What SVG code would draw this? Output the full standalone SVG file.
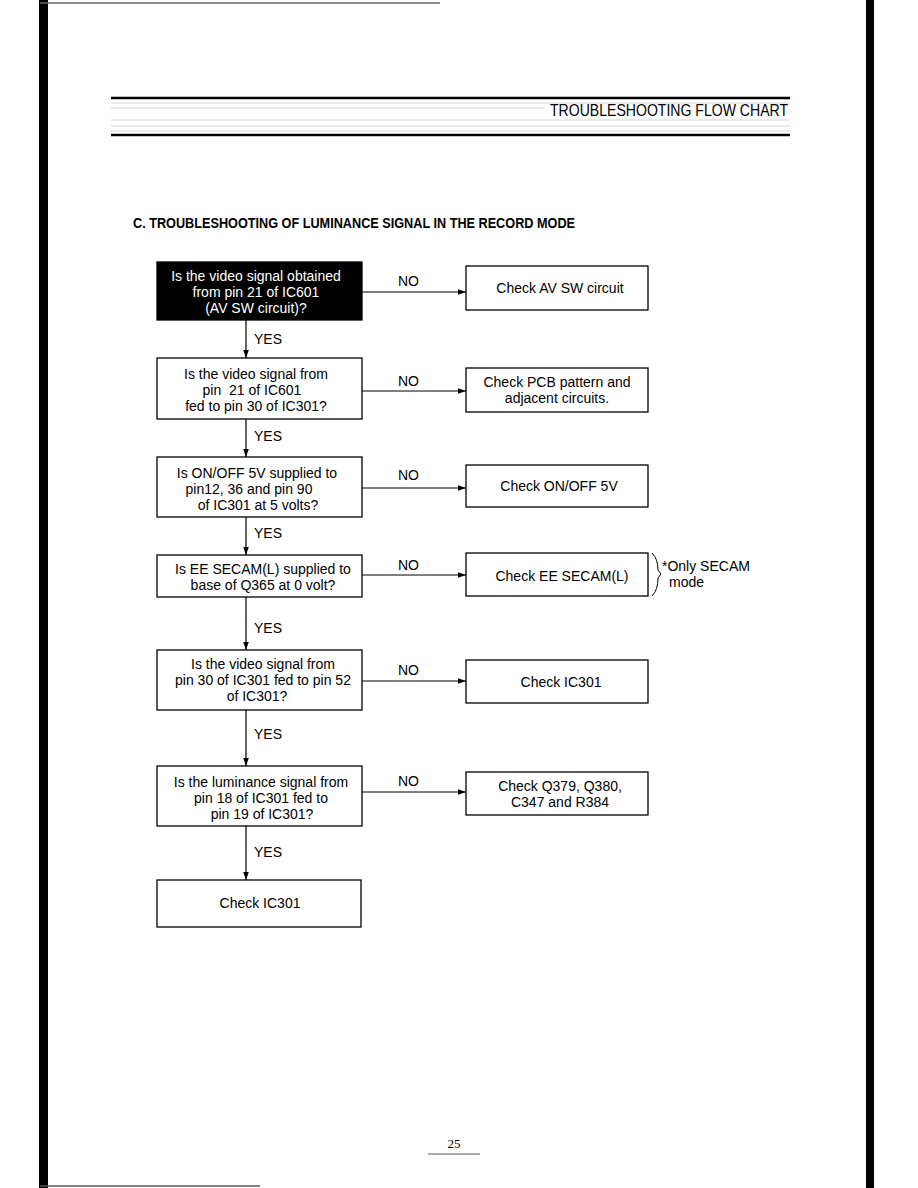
<svg xmlns="http://www.w3.org/2000/svg" width="918" height="1188" viewBox="0 0 918 1188">
<style>
.box{fill:#fff;stroke:#000;stroke-width:1.3}
.dark{fill:#000;stroke:#000;stroke-width:1.3}
.t{font-family:"Liberation Sans",Arial,sans-serif;font-size:14px;fill:#000}
.tw{font-family:"Liberation Sans",Arial,sans-serif;font-size:14px;fill:#fff}
.c{text-anchor:middle}
.lbl{font-family:"Liberation Sans",Arial,sans-serif;font-size:14px;fill:#000}
.edge{stroke:#000;stroke-width:1.2;fill:none}
.scan{stroke:#bbb;stroke-width:0.6}
</style>
<defs>
<marker id="ah" viewBox="0 0 10 10" refX="10" refY="5" markerWidth="8" markerHeight="8" markerUnits="userSpaceOnUse" orient="auto">
<path d="M0,1.5 L10,5 L0,8.5 Z" fill="#000"/>
</marker>
</defs>
<rect width="918" height="1188" fill="#fff"/>
<g id="page">
<rect x="39" y="0" width="9" height="1188" fill="#000"/>
<rect x="866" y="0" width="8" height="1188" fill="#000"/>
<line x1="40" y1="3" x2="440" y2="3" stroke="#666" stroke-width="1.5"/>
<line x1="40" y1="1186" x2="260" y2="1186" stroke="#555" stroke-width="1.5"/>
</g>
<g id="header">
<line x1="111" y1="98" x2="790" y2="98" stroke="#000" stroke-width="2.5"/>
<line x1="111" y1="135" x2="790" y2="135" stroke="#000" stroke-width="2.5"/>
<line class="scan" x1="111" y1="103" x2="790" y2="103"/>
<line class="scan" x1="111" y1="108" x2="545" y2="108"/>
<line class="scan" x1="111" y1="120" x2="790" y2="120"/>
<line class="scan" x1="111" y1="126" x2="790" y2="126"/>
<line class="scan" x1="111" y1="131" x2="790" y2="131"/>
<text x="550" y="116" font-family="'Liberation Sans',Arial,sans-serif" font-size="17" textLength="238" lengthAdjust="spacingAndGlyphs" fill="#000">TROUBLESHOOTING FLOW CHART</text>
</g>
<text id="title" x="133" y="228" font-family="'Liberation Sans',Arial,sans-serif" font-size="14" font-weight="bold" textLength="442" lengthAdjust="spacingAndGlyphs" fill="#000">C. TROUBLESHOOTING OF LUMINANCE SIGNAL IN THE RECORD MODE</text>

<g id="q1">
<rect class="dark" x="157" y="262" width="205" height="58"/>
<text class="tw c" x="256" y="281">Is the video signal obtained</text>
<text class="tw c" x="256" y="297">from pin 21 of IC601</text>
<text class="tw c" x="256" y="313">(AV SW circuit)?</text>
</g>
<g id="a1">
<rect class="box" x="466" y="266" width="182" height="44"/>
<text class="t c" x="560" y="293">Check AV SW circuit</text>
</g>
<g id="q2">
<rect class="box" x="157" y="358" width="205" height="61"/>
<text class="t c" x="256" y="379">Is the video signal from</text>
<text class="t c" x="252" y="395" xml:space="preserve">pin  21 of IC601</text>
<text class="t c" x="256" y="411">fed to pin 30 of IC301?</text>
</g>
<g id="a2">
<rect class="box" x="466" y="368" width="182" height="44"/>
<text class="t c" x="557" y="387">Check PCB pattern and</text>
<text class="t c" x="557" y="403">adjacent circuits.</text>
</g>
<g id="q3">
<rect class="box" x="157" y="457" width="205" height="60"/>
<text class="t c" x="257" y="478">Is ON/OFF 5V supplied to</text>
<text class="t c" x="249" y="494">pin12, 36 and pin 90</text>
<text class="t c" x="258" y="510">of IC301 at 5 volts?</text>
</g>
<g id="a3">
<rect class="box" x="466" y="465" width="182" height="42"/>
<text class="t c" x="559" y="491">Check ON/OFF 5V</text>
</g>
<g id="q4">
<rect class="box" x="157" y="555" width="205" height="42"/>
<text class="t c" x="263" y="574">Is EE SECAM(L) supplied to</text>
<text class="t c" x="263" y="590">base of Q365 at 0 volt?</text>
</g>
<g id="a4">
<rect class="box" x="466" y="553" width="182" height="43"/>
<text class="t c" x="562" y="581">Check EE SECAM(L)</text>
<path d="M652,553 Q658,559 658,570 L661,574 L658,578 Q658,590 652,596" fill="none" stroke="#000" stroke-width="1"/>
<text class="t" x="662" y="571">*Only SECAM</text>
<text class="t" x="669" y="587">mode</text>
</g>
<g id="q5">
<rect class="box" x="157" y="650" width="205" height="60"/>
<text class="t c" x="263" y="669">Is the video signal from</text>
<text class="t c" x="263" y="685">pin 30 of IC301 fed to pin 52</text>
<text class="t c" x="257" y="701">of IC301?</text>
</g>
<g id="a5">
<rect class="box" x="466" y="660" width="182" height="43"/>
<text class="t c" x="561" y="687">Check IC301</text>
</g>
<g id="q6">
<rect class="box" x="157" y="766" width="205" height="60"/>
<text class="t c" x="261" y="787">Is the luminance signal from</text>
<text class="t c" x="261" y="803">pin 18 of IC301 fed to</text>
<text class="t c" x="262" y="819">pin 19 of IC301?</text>
</g>
<g id="a6">
<rect class="box" x="466" y="772" width="182" height="43"/>
<text class="t c" x="560" y="791">Check Q379, Q380,</text>
<text class="t c" x="560" y="807">C347 and R384</text>
</g>
<g id="end">
<rect class="box" x="157" y="880" width="204" height="47"/>
<text class="t c" x="260" y="908">Check IC301</text>
</g>

<g id="connectors">
<line class="edge" x1="362" y1="292" x2="466" y2="292" marker-end="url(#ah)"/>
<line class="edge" x1="362" y1="391" x2="466" y2="391" marker-end="url(#ah)"/>
<line class="edge" x1="362" y1="488" x2="466" y2="488" marker-end="url(#ah)"/>
<line class="edge" x1="362" y1="575" x2="466" y2="575" marker-end="url(#ah)"/>
<line class="edge" x1="362" y1="681" x2="466" y2="681" marker-end="url(#ah)"/>
<line class="edge" x1="362" y1="792" x2="466" y2="792" marker-end="url(#ah)"/>
<line class="edge" x1="246" y1="320" x2="246" y2="358" marker-end="url(#ah)"/>
<line class="edge" x1="246" y1="419" x2="246" y2="457" marker-end="url(#ah)"/>
<line class="edge" x1="246" y1="517" x2="246" y2="555" marker-end="url(#ah)"/>
<line class="edge" x1="246" y1="597" x2="246" y2="650" marker-end="url(#ah)"/>
<line class="edge" x1="246" y1="710" x2="246" y2="766" marker-end="url(#ah)"/>
<line class="edge" x1="246" y1="826" x2="246" y2="880" marker-end="url(#ah)"/>
<text class="lbl" x="398" y="286">NO</text>
<text class="lbl" x="398" y="386">NO</text>
<text class="lbl" x="398" y="480">NO</text>
<text class="lbl" x="398" y="570">NO</text>
<text class="lbl" x="398" y="675">NO</text>
<text class="lbl" x="398" y="786">NO</text>
<text class="lbl" x="254" y="344">YES</text>
<text class="lbl" x="254" y="441">YES</text>
<text class="lbl" x="254" y="538">YES</text>
<text class="lbl" x="254" y="633">YES</text>
<text class="lbl" x="254" y="739">YES</text>
<text class="lbl" x="254" y="857">YES</text>
</g>
<g id="footer">
<text x="454" y="1148" font-family="'Liberation Serif','Times New Roman',serif" font-size="13" text-anchor="middle" fill="#000">25</text>
<line x1="428" y1="1154" x2="480" y2="1154" stroke="#555" stroke-width="1"/>
</g>
</svg>
